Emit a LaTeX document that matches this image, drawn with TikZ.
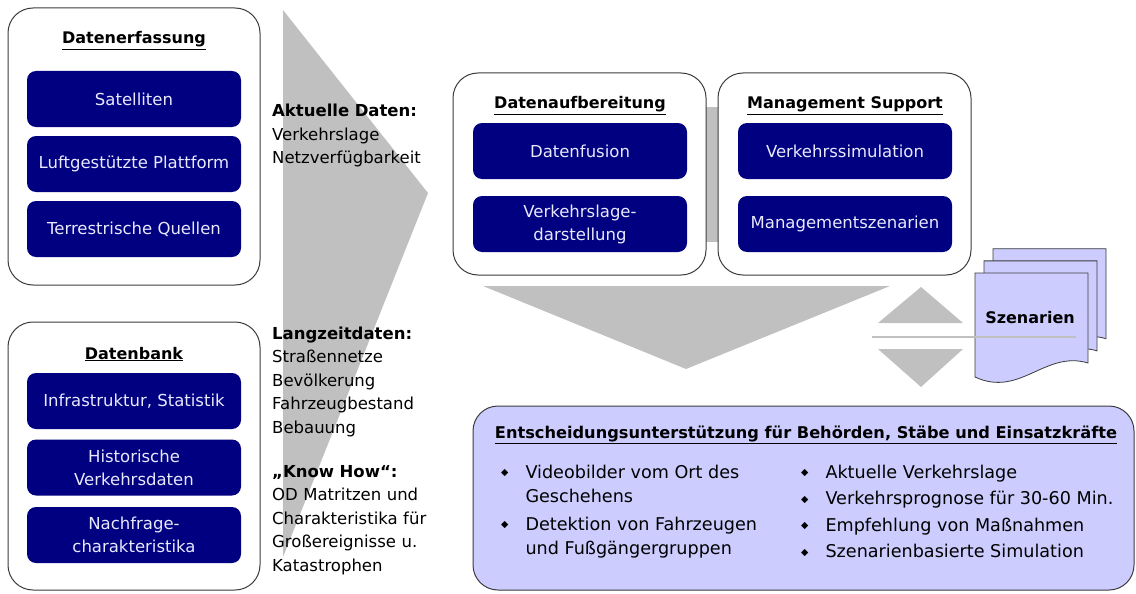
\documentclass[tikz,border=0pt]{standalone}
\usepackage{fontspec}
\setmainfont{DejaVu Sans}
\definecolor{navy}{RGB}{0,0,128}
\definecolor{lila}{RGB}{204,204,255}
\definecolor{grau}{RGB}{192,192,192}
\definecolor{rand}{RGB}{60,60,60}
\definecolor{hell}{RGB}{232,232,255}
\newcommand{\blt}{\raisebox{2.3pt}{\fontsize{9.5}{9.5}\selectfont ◆}}
\tikzset{
    PAN1/.style ={rectangle,rounded corners=25pt,draw=rand,line width=1pt,fill=white,inner sep=0pt},
    PAN2/.style ={PAN1,fill=lila},
    BOX/.style ={rectangle,rounded corners=9pt,fill=navy,text=hell,minimum width=214pt,minimum height=56pt,
        align=center,inner sep=0pt,font=\fontsize{16.5}{23}\selectfont},
    TIT/.style ={anchor=base,inner sep=0pt,font=\fontsize{16}{20}\selectfont\bfseries},
    TXT/.style ={anchor=base west,inner sep=0pt,text width=190pt,align=left,font=\fontsize{16.5}{23.5}\selectfont},
    LST/.style ={anchor=base west,inner sep=0pt,font=\fontsize{17.6}{24}\selectfont},
    DOC/.style ={fill=lila,draw=rand,line width=0.8pt}}

\begin{document}
\begin{tikzpicture}[x=1pt,y=-1pt]
    \useasboundingbox (0,0) rectangle (1136,594);
    % grey arrows in the background
    \fill[grau] (283,10) -- (428,193) -- (283,557) -- cycle;
    \fill[grau] (483,286) -- (890,286) -- (686,369) -- cycle;
    \fill[grau] (700,107) rectangle (724,242);
    \fill[grau] (921,287) -- (963,323) -- (878,323) -- cycle;
    \fill[grau] (878,349) -- (963,349) -- (921,387) -- cycle;

    % left column
    \node[PAN1,minimum width=252pt,minimum height=277pt] (erf) at (134,146.5) {};
    \node[TIT] (erfT) at (134,44) {\underline{Datenerfassung}};
    \node[BOX] (sat) at (134,99) {Satelliten};
    \node[BOX] (luft) at (134,164) {Luftgestützte Plattform};
    \node[BOX] (terr) at (134,229) {Terrestrische Quellen};

    \node[PAN1,minimum width=252pt,minimum height=268pt] (dbk) at (134,456) {};
    \node[TIT] (dbkT) at (134,359) {\underline{Datenbank}};
    \node[BOX] (infra) at (134,401) {Infrastruktur, Statistik};
    \node[BOX] (hist) at (134,467.5) {Historische\\Verkehrsdaten};
    \node[BOX] (nach) at (134,535) {Nachfrage-\\charakteristika};

    % notes on the arrow
    \node[TXT] (akt) at (272,117) {\textbf{Aktuelle Daten:}\\Verkehrslage\\Netzverfügbarkeit};
    \node[TXT] (lang) at (272,339) {\textbf{Langzeitdaten:}\\Straßennetze\\Bevölkerung\\Fahrzeugbestand\\Bebauung};
    \node[TXT] (know) at (272,477) {\textbf{„Know How“:}\\OD Matritzen und\\Charakteristika für\\Großereignisse u.\\Katastrophen};

    % middle row
    \node[PAN1,minimum width=253pt,minimum height=202pt] (aufb) at (579.5,174) {};
    \node[TIT] (aufbT) at (580,109) {\underline{Datenaufbereitung}};
    \node[BOX] (fus) at (580,151) {Datenfusion};
    \node[BOX] (lage) at (580,224) {Verkehrslage-\\darstellung};

    \node[PAN1,minimum width=253pt,minimum height=202pt] (mgmt) at (844.5,174) {};
    \node[TIT] (mgmtT) at (845,109) {\underline{Management Support}};
    \node[BOX] (sim) at (845,151) {Verkehrssimulation};
    \node[BOX] (szen) at (845,224) {Managementszenarien};

    % stack of scenario sheets
    \foreach \d in {18,9,0}{
        \begin{scope}[shift={(\d,{-1.35*\d})}]
            \draw[DOC] (975,273) -- (1088,273) -- (1088,363)
                .. controls (1045,350) and (1020,398) .. (975,377) -- cycle;
        \end{scope}
    }
    \node[TIT] (blatt) at (1030,323) {Szenarien};
    \draw[grau,line width=2pt] (872,337) -- (1076,337);

    % decision support
    \node[PAN2,minimum width=661pt,minimum height=184pt] (ent) at (803.5,498) {};
    \node[TIT,font=\fontsize{16.2}{20}\selectfont\bfseries] (entT) at (806,438)
        {\underline{Entscheidungsunterstützung für Behörden, Stäbe und Einsatzkräfte}};
    \node[LST] (links) at (501,478) {\begin{tabular}[t]{@{}c@{\hspace{17pt}}l@{}}
        \blt & Videobilder vom Ort des\\
             & Geschehens\\[4pt]
        \blt & Detektion von Fahrzeugen\\
             & und Fußgängergruppen
        \end{tabular}};
    \node[LST] (rechts) at (801,478) {\begin{tabular}[t]{@{}c@{\hspace{17pt}}l@{}}
        \blt & Aktuelle Verkehrslage\\[2.5pt]
        \blt & Verkehrsprognose für 30-60 Min.\\[2.5pt]
        \blt & Empfehlung von Maßnahmen\\[2.5pt]
        \blt & Szenarienbasierte Simulation
        \end{tabular}};
\end{tikzpicture}
\end{document}
